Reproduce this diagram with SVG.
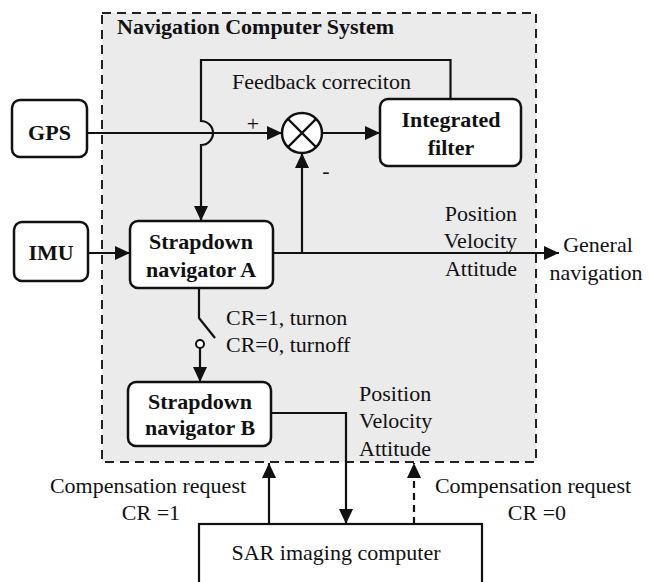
<svg xmlns="http://www.w3.org/2000/svg" width="649" height="582" viewBox="0 0 649 582">
<style>
text{font-family:"Liberation Serif","Times New Roman",serif;font-size:22px;fill:#111}
.b{font-weight:bold}
.m{text-anchor:middle}
.e{text-anchor:end}
.box{fill:#fff;stroke:#111;stroke-width:2.5}
.ln{fill:none;stroke:#111;stroke-width:2.2}
</style>
<defs>
<marker id="ah" markerUnits="userSpaceOnUse" markerWidth="16" markerHeight="14" refX="15" refY="7" orient="auto">
<path d="M0,0 L15,7 L0,14 z" fill="#111"/>
</marker>
</defs>
<rect width="649" height="582" fill="#fff"/>
<g id="system">
<rect x="102" y="13" width="434" height="449" fill="#ebebeb" stroke="#222" stroke-width="2" stroke-dasharray="9,6"/>
<text class="b" x="117" y="34">Navigation Computer System</text>
</g>
<g id="connectors">
<path class="ln" d="M87,133 H282" marker-end="url(#ah)"/>
<path class="ln" d="M322,133 H380" marker-end="url(#ah)"/>
<path class="ln" d="M302,253 V153" marker-end="url(#ah)"/>
<path class="ln" d="M273,253 H559" marker-end="url(#ah)"/>
<path class="ln" d="M88,253 H130" marker-end="url(#ah)"/>
<path class="ln" d="M450.5,99 V60 H201 V121 A12,12 0 0 1 201,145 V221" marker-end="url(#ah)"/>
<path class="ln" d="M199,288 V318 L215,338"/>
<path class="ln" d="M200,348 V382" marker-end="url(#ah)"/>
<circle cx="200" cy="344" r="4" fill="#fff" stroke="#111" stroke-width="2"/>
<path class="ln" d="M271,413 H346 V524" marker-end="url(#ah)"/>
<path class="ln" d="M269,524 V463" marker-end="url(#ah)"/>
<path class="ln" d="M414,524 V463" stroke-dasharray="7,5" marker-end="url(#ah)"/>
</g>
<g id="sum">
<circle cx="302" cy="133" r="20" fill="#fff" stroke="#111" stroke-width="2.5"/>
<path class="ln" d="M287.9,118.9 L316.1,147.1 M316.1,118.9 L287.9,147.1"/>
<text class="m" x="253" y="131">+</text>
<text class="m" x="326" y="178">-</text>
</g>
<text x="232" y="89">Feedback correciton</text>
<g id="gps">
<rect class="box" x="12" y="100" width="75" height="57" rx="8"/>
<text class="b m" x="49.5" y="140">GPS</text>
</g>
<g id="imu">
<rect class="box" x="14" y="222" width="74" height="59" rx="8"/>
<text class="b m" x="51" y="260">IMU</text>
</g>
<g id="filter">
<rect class="box" x="380" y="99" width="141" height="67" rx="8"/>
<text class="b m" x="451" y="127">Integrated</text>
<text class="b m" x="451" y="155">filter</text>
</g>
<g id="navA">
<rect class="box" x="130" y="221" width="143" height="67" rx="8"/>
<text class="b m" x="201" y="249">Strapdown</text>
<text class="b m" x="201" y="277">navigator A</text>
</g>
<g id="outA">
<text class="e" x="517" y="221">Position</text>
<text class="e" x="517" y="248">Velocity</text>
<text class="e" x="517" y="276">Attitude</text>
</g>
<g id="general">
<text class="m" x="598" y="252">General</text>
<text class="m" x="596" y="280">navigation</text>
</g>
<g id="switch">
<text x="226" y="325">CR=1, turnon</text>
<text x="226" y="352">CR=0, turnoff</text>
</g>
<g id="navB">
<rect class="box" x="128" y="382" width="143" height="64" rx="8"/>
<text class="b m" x="200" y="409">Strapdown</text>
<text class="b m" x="200" y="435">navigator B</text>
</g>
<g id="outB">
<text x="359" y="401">Position</text>
<text x="359" y="428">Velocity</text>
<text x="359" y="456">Attitude</text>
</g>
<g id="req1">
<text class="m" x="148" y="493">Compensation request</text>
<text class="m" x="151" y="520">CR =1</text>
</g>
<g id="req0">
<text class="m" x="533" y="493">Compensation request</text>
<text class="m" x="537" y="520">CR =0</text>
</g>
<g id="sar">
<rect x="199" y="524" width="283" height="70" fill="#fff" stroke="#111" stroke-width="2.2"/>
<text class="m" x="336" y="560">SAR imaging computer</text>
</g>
</svg>
